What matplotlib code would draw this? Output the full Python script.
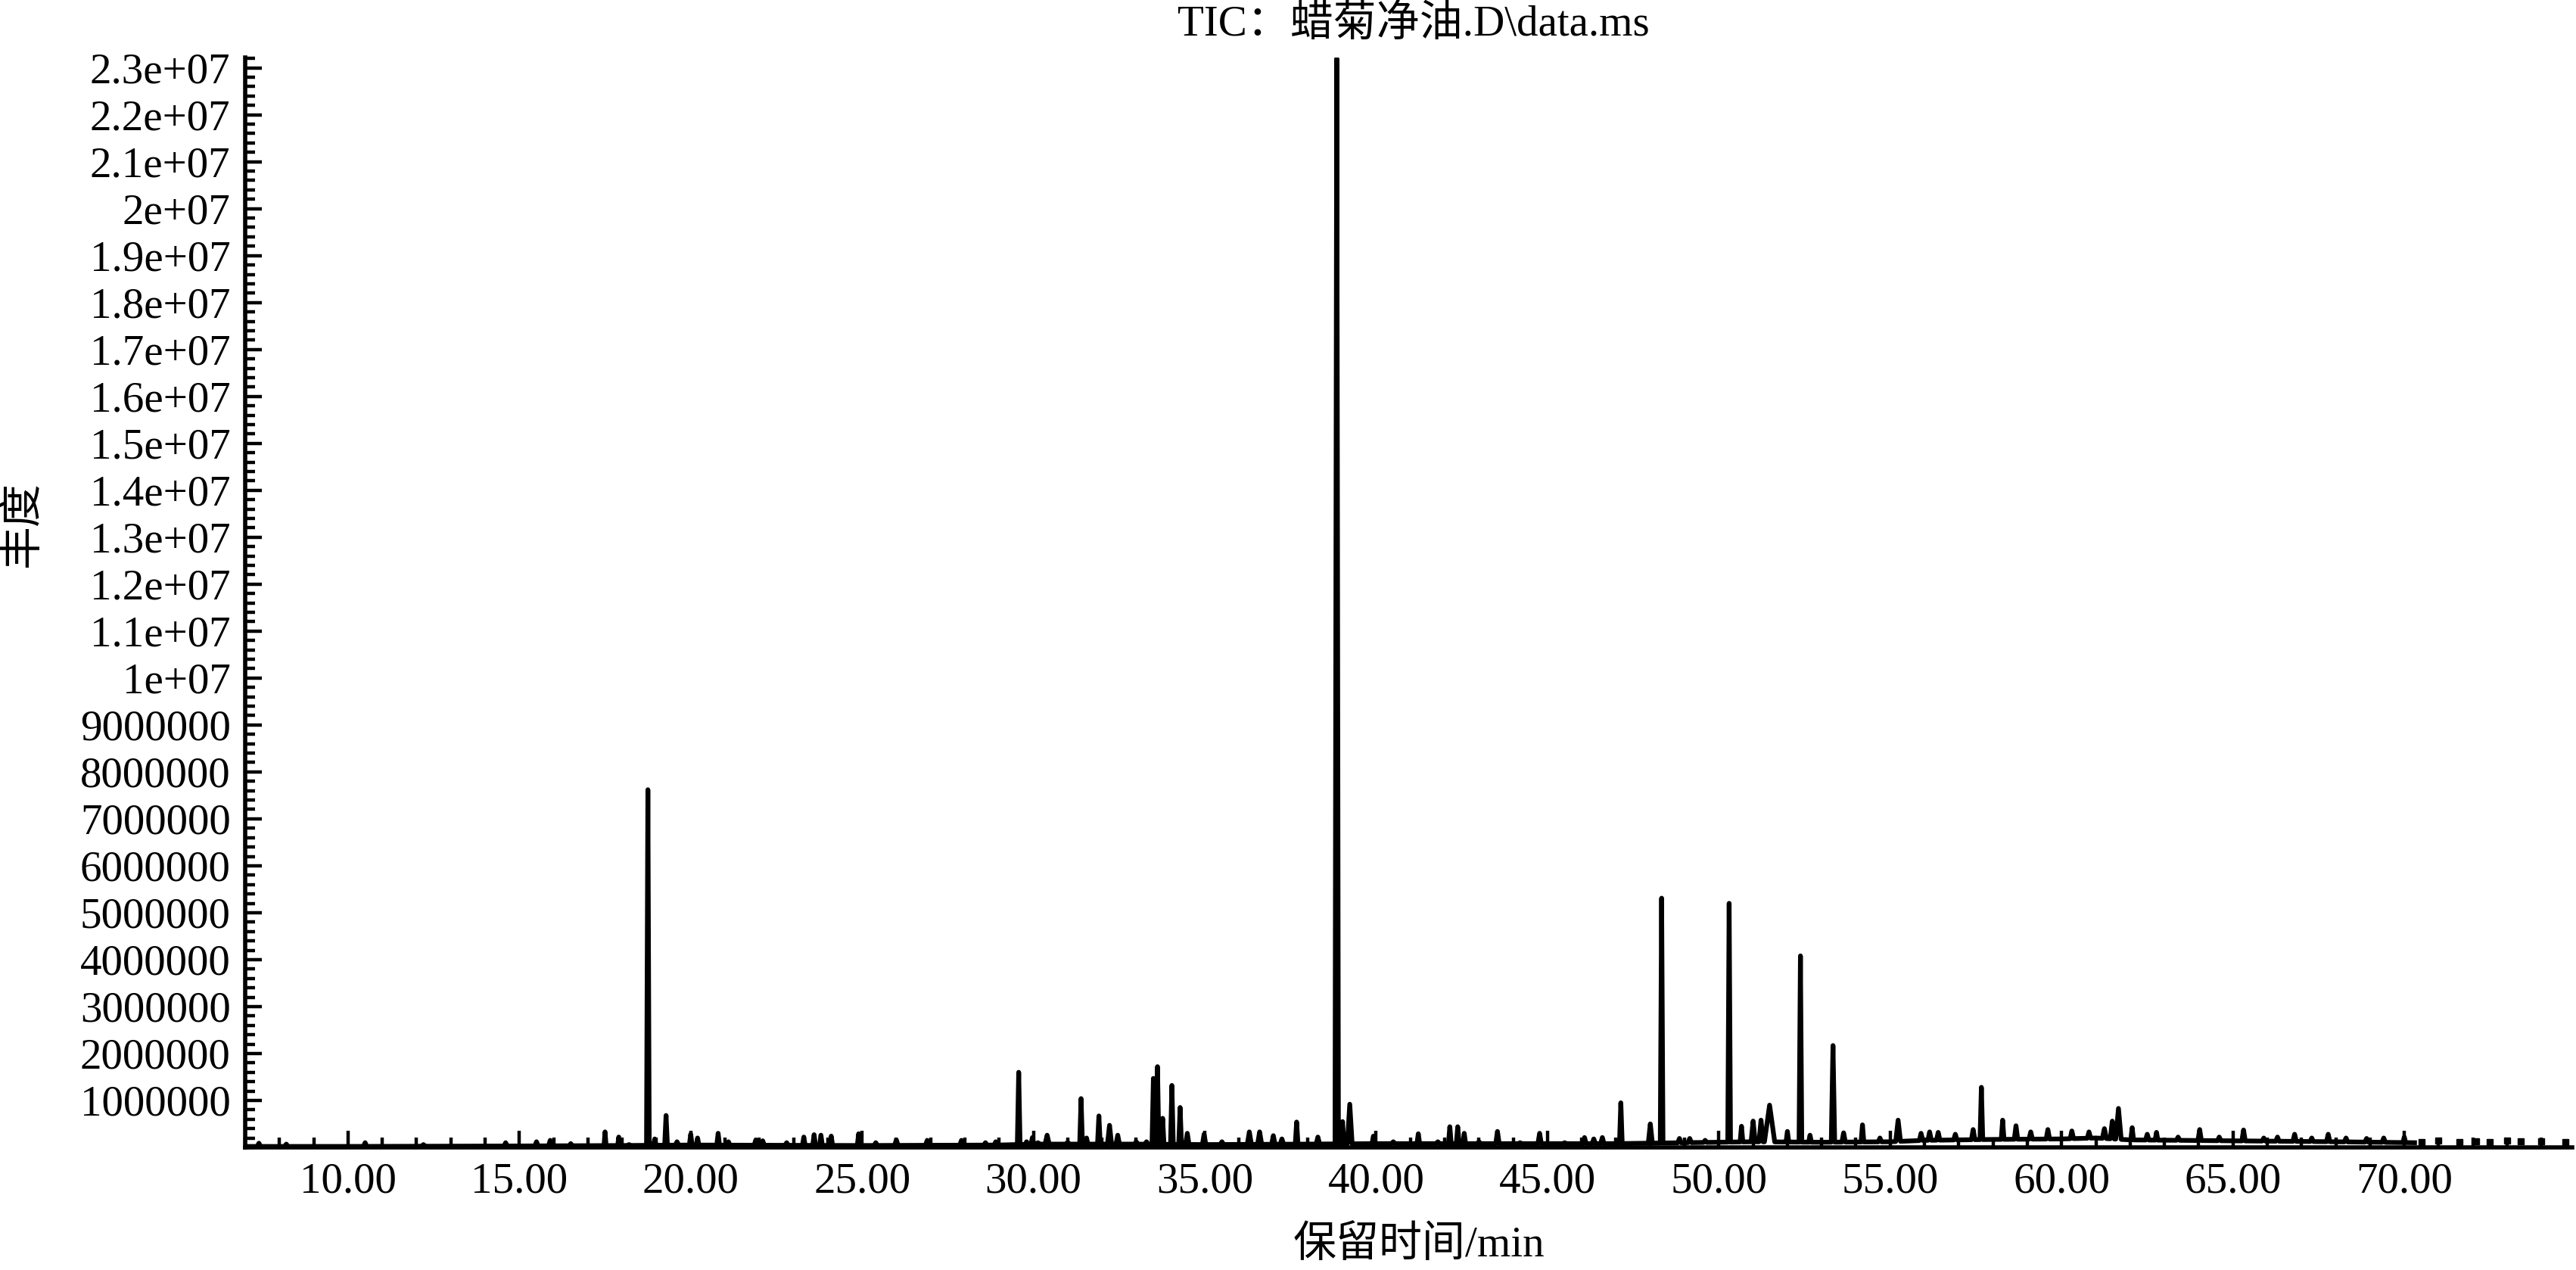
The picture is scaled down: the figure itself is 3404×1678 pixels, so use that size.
import numpy as np
import matplotlib
matplotlib.use('Agg')
import matplotlib.pyplot as plt
from matplotlib.ticker import FixedLocator, MultipleLocator, FuncFormatter, FormatStrFormatter

plt.rcParams['font.family'] = ['Liberation Serif', 'Noto Sans CJK SC', 'DejaVu Sans']

# --- data (retention time in min, abundance in 1e6 counts) ---
# baseline drift
base_t = [7.0, 10.0, 15.0, 18.0, 20.0, 25.0, 29.0, 30.0, 33.0, 35.0, 38.0, 40.0,
          45.0, 47.0, 49.0, 51.0, 53.0, 55.0, 56.0, 58.0, 60.0, 61.0, 62.0, 65.0,
          68.0, 70.3]
base_y = [0.02, 0.02, 0.03, 0.04, 0.05, 0.04, 0.05, 0.07, 0.07, 0.06, 0.07, 0.08,
          0.08, 0.08, 0.10, 0.12, 0.11, 0.12, 0.15, 0.17, 0.18, 0.20, 0.16, 0.14,
          0.12, 0.10]

# peaks: apex time, apex abundance, half width at the foot
pk_t = [7.4, 8.2, 10.5, 12.2, 14.6, 15.5, 15.9, 16.5, 17.5, 17.9, 18.2,
        18.75, 18.95, 19.28, 19.6, 20.0, 20.2, 20.8, 21.1, 21.9, 22.1, 22.8,
        23.3, 23.6, 23.8, 24.1, 24.9, 25.4, 26.0, 26.9, 27.9, 28.6, 28.9,
        29.57, 29.8, 29.97, 30.13, 30.4, 31.0, 31.39, 31.55, 31.91, 32.22, 32.46,
        33.0, 33.3, 33.5, 33.62, 33.77, 34.04, 34.28, 34.49, 34.98, 35.5,
        36.3, 36.6, 37.0, 37.25, 37.68, 38.3, 38.85, 39.02, 39.23, 39.92,
        40.5, 41.23, 41.8, 42.15, 42.38, 42.57, 43.0, 43.54, 44.2, 44.77,
        45.5, 46.08, 46.35, 46.6, 47.14, 48.0, 48.33, 48.85, 49.15, 49.6,
        50.3, 50.66, 51.0, 51.23, 51.48, 52.0, 52.38, 52.66, 53.33, 53.64,
        54.19, 54.7, 55.23, 55.9, 56.15, 56.4, 56.9, 57.42, 57.66, 58.28,
        58.67, 59.1, 59.6, 60.3, 60.8, 61.25, 61.48, 61.66, 62.06, 62.5,
        62.77, 63.4, 64.03, 64.6, 65.31, 65.9, 66.3, 66.8, 67.3, 67.78,
        68.3, 68.9, 69.4, 70.0]
pk_h = [0.09, 0.07, 0.10, 0.06, 0.10, 0.12, 0.15, 0.08, 0.33, 0.22, 0.06,
        7.62, 0.18, 0.68, 0.12, 0.28, 0.20, 0.30, 0.12, 0.16, 0.14, 0.10,
        0.22, 0.27, 0.26, 0.24, 0.29, 0.10, 0.16, 0.15, 0.15, 0.10, 0.12,
        1.60, 0.12, 0.21, 0.10, 0.26, 0.11, 1.04, 0.20, 0.67, 0.47, 0.26,
        0.12, 0.12, 1.47, 1.72, 0.62, 1.32, 0.85, 0.30, 0.28, 0.12,
        0.33, 0.33, 0.25, 0.18, 0.54, 0.22, 23.2, 0.55, 0.92, 0.24,
        0.12, 0.29, 0.12, 0.44, 0.44, 0.30, 0.12, 0.34, 0.10, 0.30,
        0.10, 0.21, 0.18, 0.21, 0.95, 0.50, 5.31, 0.19, 0.19, 0.15,
        5.20, 0.45, 0.56, 0.58, 0.90, 0.34, 4.08, 0.26, 2.17, 0.31,
        0.48, 0.20, 0.58, 0.30, 0.33, 0.32, 0.28, 0.38, 1.28, 0.58,
        0.46, 0.33, 0.38, 0.35, 0.33, 0.40, 0.56, 0.83, 0.42, 0.28,
        0.32, 0.22, 0.38, 0.22, 0.37, 0.20, 0.22, 0.28, 0.20, 0.28,
        0.20, 0.19, 0.20, 0.22]
pk_w = [0.05, 0.05, 0.05, 0.05, 0.05, 0.05, 0.05, 0.05, 0.03, 0.03, 0.05,
        0.04, 0.04, 0.04, 0.05, 0.04, 0.04, 0.04, 0.05, 0.05, 0.05, 0.05,
        0.04, 0.04, 0.04, 0.04, 0.04, 0.05, 0.05, 0.05, 0.05, 0.05, 0.05,
        0.04, 0.04, 0.04, 0.04, 0.06, 0.04, 0.04, 0.04, 0.04, 0.06, 0.05,
        0.05, 0.05, 0.04, 0.04, 0.04, 0.04, 0.04, 0.05, 0.05, 0.05,
        0.06, 0.06, 0.05, 0.05, 0.04, 0.05, 0.05, 0.04, 0.07, 0.04,
        0.05, 0.04, 0.05, 0.04, 0.04, 0.04, 0.05, 0.05, 0.05, 0.05,
        0.05, 0.05, 0.05, 0.05, 0.04, 0.06, 0.04, 0.05, 0.05, 0.05,
        0.04, 0.04, 0.06, 0.06, 0.15, 0.04, 0.04, 0.04, 0.05, 0.05,
        0.04, 0.05, 0.07, 0.05, 0.05, 0.05, 0.05, 0.05, 0.04, 0.04,
        0.05, 0.05, 0.05, 0.05, 0.05, 0.06, 0.06, 0.08, 0.04, 0.05,
        0.04, 0.05, 0.05, 0.05, 0.05, 0.05, 0.05, 0.05, 0.05, 0.05,
        0.05, 0.05, 0.05, 0.04]

# sparse points at the end of the run
tail_t = [70.5, 71.0, 71.6, 72.1, 72.5, 73.0, 73.4, 74.0, 74.7]
tail_y = [0.12, 0.14, 0.12, 0.13, 0.12, 0.14, 0.13, 0.13, 0.12]

# --- build the trace: baseline + triangular peaks, evaluated at their break points ---
base_t = np.array(base_t)
base_y = np.array(base_y) * 1e6
pt, ph, pw = np.array(pk_t), np.array(pk_h) * 1e6, np.array(pk_w)
knots = np.unique(np.concatenate([base_t, pt - pw, pt, pt + pw]))
knots = knots[(knots >= base_t[0]) & (knots <= base_t[-1])]
trace = np.interp(knots, base_t, base_y)
for t0, h, w in zip(pt, ph, pw):
    lift = h - np.interp(t0, base_t, base_y)
    trace += np.clip(1 - np.abs(knots - t0) / w, 0, None) * lift

W, H = 3405, 1678
fig = plt.figure(figsize=(W / 100, H / 100), dpi=100)
ax = fig.add_axes([324 / W, 1 - 1516 / H, (3399 - 324) / W, (1516 - 76) / H])

ax.plot(knots, trace, color='black', lw=4.5, solid_joinstyle='round')
ax.plot(tail_t, np.array(tail_y) * 1e6, ls='none', marker='s', ms=6, color='black')

ax.set_xlim(7.0, 74.9)
ax.set_ylim(0, 23.22e6)
for s in ['top', 'right']:
    ax.spines[s].set_visible(False)
for s in ['left', 'bottom']:
    ax.spines[s].set_linewidth(4)

ax.xaxis.set_major_locator(FixedLocator(np.arange(10, 71, 5)))
ax.xaxis.set_minor_locator(MultipleLocator(1))
ax.xaxis.set_major_formatter(FormatStrFormatter('%.2f'))
ax.yaxis.set_major_locator(FixedLocator(np.arange(1, 24) * 1e6))
ax.yaxis.set_minor_locator(MultipleLocator(2e5))
ax.yaxis.set_major_formatter(FuncFormatter(lambda v, _: f'{int(round(v))}' if v < 1e7 else f'{v:g}'))

ax.tick_params(which='major', direction='in', length=16, width=3.2, labelsize=41, pad=14)
ax.tick_params(which='minor', direction='in', length=9.5, width=3.2)

fig.text(1868 / W, 1 - 32 / H, 'TIC：蜡菊净油.D\\data.ms', ha='center', va='center', fontsize=41)
fig.text(1875 / W, 1 - 1646 / H, '保留时间/min', ha='center', va='center', fontsize=41)
fig.text(30 / W, 1 - 692 / H, '丰度', ha='center', va='center', rotation=90, fontsize=41)

fig.savefig('out.png', dpi=100)
